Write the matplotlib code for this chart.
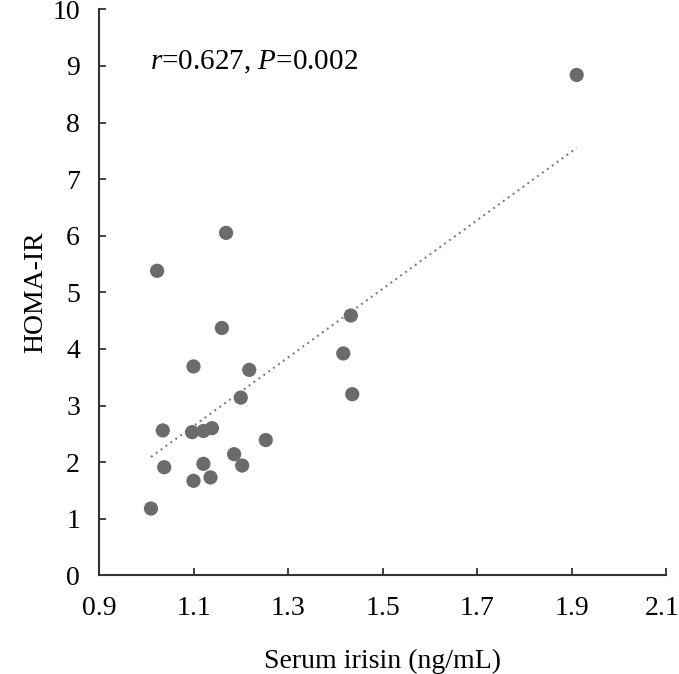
import numpy as np
import matplotlib.pyplot as plt
import matplotlib.transforms as mtransforms

# Serum irisin vs HOMA-IR
irisin = [1.009, 1.022, 1.034, 1.037, 1.096, 1.099, 1.099, 1.120, 1.120, 1.135,
          1.138, 1.159, 1.168, 1.185, 1.199, 1.202, 1.217, 1.252, 1.416, 1.432,
          1.435, 1.910]
homa_ir = [1.18, 5.38, 2.56, 1.91, 2.53, 3.69, 1.67, 2.55, 1.97, 1.73,
           2.60, 4.37, 6.05, 2.14, 3.14, 1.94, 3.63, 2.39, 3.92, 4.59,
           3.20, 8.84]

x_ticks = [0.9, 1.1, 1.3, 1.5, 1.7, 1.9, 2.1]
y_ticks = list(range(0, 11))

plt.rcParams['font.family'] = 'serif'
plt.rcParams['font.serif'] = ['Liberation Serif', 'DejaVu Serif']
plt.rcParams['mathtext.fontset'] = 'custom'
plt.rcParams['mathtext.rm'] = 'Liberation Serif'
plt.rcParams['mathtext.it'] = 'Liberation Serif:italic'

fig = plt.figure(figsize=(6.79, 6.74), dpi=100)
ax = fig.add_axes([0.1465, 0.1464, 0.835, 0.8398])

# linha de tendência (regressão linear)
coef = np.polyfit(irisin, homa_ir, 1)
xs = np.array([min(irisin), max(irisin)])
ax.plot(xs, np.polyval(coef, xs), linestyle=(0, (0.9, 2.0)), color='#777777', linewidth=1.5)

ax.scatter(irisin, homa_ir, s=105, color='#6b6b6b', edgecolors='none', zorder=3)

ax.set_xlim(0.9, 2.1)
ax.set_ylim(0, 10)
ax.set_xticks(x_ticks)
ax.set_xticklabels([f"{v:.1f}" for v in x_ticks])
ax.set_yticks(y_ticks)

for s in ['top', 'right']:
    ax.spines[s].set_visible(False)
for s in ['left', 'bottom']:
    ax.spines[s].set_color('#333333')
    ax.spines[s].set_linewidth(1.5)

ax.tick_params(direction='in', length=5, width=1.3, color='#333333', labelsize=20)
ax.tick_params(axis='x', pad=15)
ax.tick_params(axis='y', pad=14)

# último rótulo (2.1) encosta na borda: puxa um pouco para a esquerda
last = ax.get_xticklabels()[-1]
last.set_transform(last.get_transform() +
                   mtransforms.ScaledTranslation(-4 / 100, 0, fig.dpi_scale_trans))

ax.set_xlabel("Serum irisin (ng/mL)", fontsize=20, labelpad=20)
ax.set_ylabel("HOMA-IR", fontsize=20, labelpad=3)

ax.text(1.007, 9.07, r"$r$=0.627, $P$=0.002", fontsize=21, va='center', ha='left')

fig.savefig("out.png", dpi=100)
